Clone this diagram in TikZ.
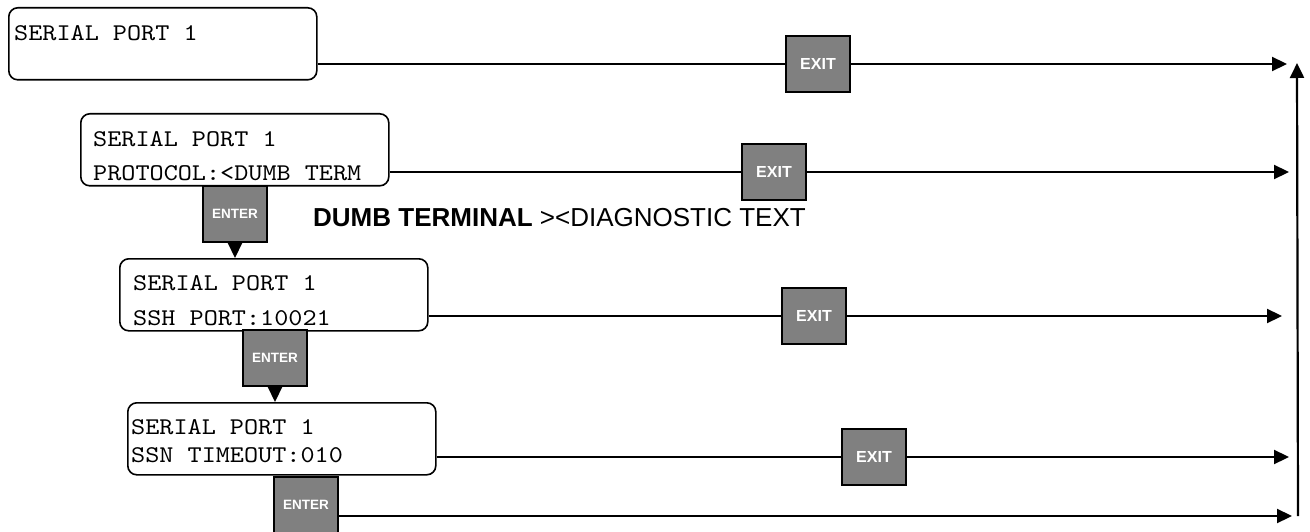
\documentclass[tikz,border=0pt]{standalone}
\usepackage{fontspec}
\setmainfont{Liberation Sans}
\newfontfamily\lcdfont{lmmono10-regular.otf}[FakeStretch=1.12]
\usetikzlibrary{arrows.meta}
\definecolor{keygray}{HTML}{808080}

\begin{document}
\begin{tikzpicture}[x=1pt, y=-1pt,
    screen/.style={draw, rounded corners=9pt, line width=1.6pt, minimum width=308pt, minimum height=72pt, anchor=north west, inner sep=0pt},
    lcd/.style={anchor=base west, inner sep=0pt, font=\lcdfont\fontsize{24}{28}\selectfont},
    key/.style={draw, fill=keygray, line width=1.6pt, minimum width=64pt, minimum height=56pt, inner sep=0pt, text=white, font=\bfseries\fontsize{13.5}{15}\selectfont},
    exitkey/.style={key, font=\bfseries\fontsize{16}{18}\selectfont},
    wire/.style={draw, line width=2.2pt},
    flow/.style={wire, -{Triangle[length=15pt, width=14pt]}},
  ]
  \useasboundingbox (0,0) rectangle (1310,532);

  % menu screens
  \node[screen] (s1) at (8,7) {};
  \node[lcd] (s1a) at (14,41) {SERIAL PORT 1};
  \node[screen] (s2) at (80,113) {};
  \node[lcd] (s2a) at (93,147) {SERIAL PORT 1};
  \node[lcd] (s2b) at (93,181) {PROTOCOL:<DUMB TERM};
  \node[screen] (s3) at (119,258) {};
  \node[lcd] (s3a) at (133,290) {SERIAL PORT 1};
  \node[lcd] (s3b) at (133,325) {SSH PORT:10021};
  \node[screen] (s4) at (127,402) {};
  \node[lcd] (s4a) at (131,434) {SERIAL PORT 1};
  \node[lcd] (s4b) at (131,462) {SSN TIMEOUT:010};

  % keys
  \node[exitkey] (x1) at (818,64) {EXIT};
  \node[exitkey] (x2) at (774,172) {EXIT};
  \node[exitkey] (x3) at (814,316) {EXIT};
  \node[exitkey] (x4) at (874,457) {EXIT};
  \node[key] (e2) at (235,214) {ENTER};
  \node[key] (e3) at (275,358) {ENTER};
  \node[key] (e4) at (306,505) {ENTER};

  % protocol choices
  \node[anchor=base west, inner sep=0pt, font=\fontsize{26}{30}\selectfont] (opts) at (313,226)
    {\bfseries DUMB TERMINAL\mdseries{} ><DIAGNOSTIC TEXT};

  % free ends on the right
  \coordinate (r1) at (1287,64);
  \coordinate (r2) at (1289,172);
  \coordinate (r3) at (1282,316);
  \coordinate (r4) at (1289,457);
  \coordinate (r5) at (1292,516);
  \coordinate (vb) at (1298,516);
  \coordinate (vt) at (1297,63);

  % exit paths
  \draw[wire] (s1.east |- x1.west) -- (x1.west);
  \draw[flow] (x1.east) -- (r1);
  \draw[wire] (s2.east |- x2.west) -- (x2.west);
  \draw[flow] (x2.east) -- (r2);
  \draw[wire] (s3.east |- x3.west) -- (x3.west);
  \draw[flow] (x3.east) -- (r3);
  \draw[wire] (s4.east |- x4.west) -- (x4.west);
  \draw[flow] (x4.east) -- (r4);
  \draw[flow] (e4.east |- r5) -- (r5);
  \draw[flow] (vb) -- (vt);

  % enter paths
  \draw[flow] (e2.south) -- (e2.south |- s3.north);
  \draw[flow] (e3.south) -- (e3.south |- s4.north);
\end{tikzpicture}
\end{document}
